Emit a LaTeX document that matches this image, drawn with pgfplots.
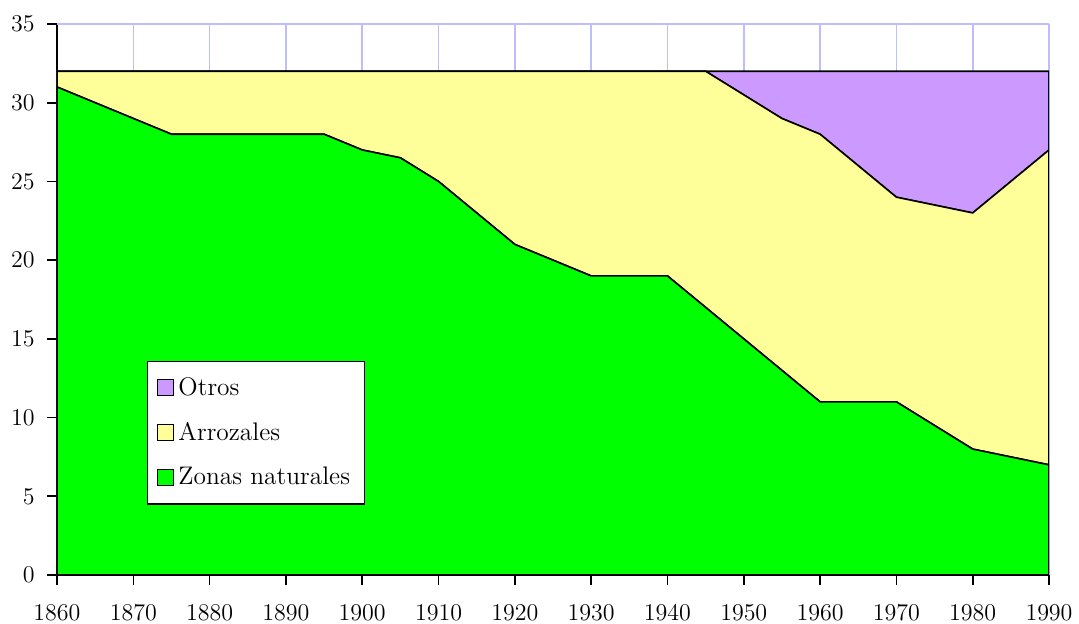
\documentclass[border=0pt]{standalone}
\usepackage{pgfplots}
\pgfplotsset{compat=1.18}
\usepackage{pgfplotstable}
\definecolor{zgreen}{HTML}{00FF00}
\definecolor{ayellow}{HTML}{FFFF99}
\definecolor{opurple}{HTML}{CC99FF}
\definecolor{gridblue}{RGB}{190,190,255}
\pgfplotstableread{
year Z A O
1860 31 1 0
1865 30 2 0
1870 29 3 0
1875 28 4 0
1880 28 4 0
1885 28 4 0
1890 28 4 0
1895 28 4 0
1900 27 5 0
1905 26.5 5.5 0
1910 25 7 0
1915 23 9 0
1920 21 11 0
1925 20 12 0
1930 19 13 0
1935 19 13 0
1940 19 13 0
1945 17 15 0
1950 15 15.5 1.5
1955 13 16 3
1960 11 17 4
1965 11 15 6
1970 11 13 8
1975 9.5 14 8.5
1980 8 15 9
1985 7.5 17.5 7
1990 7 20 5
}\datatable
\begin{document}
\begin{tikzpicture}
\path (-28.5pt,-24pt) rectangle (511pt,287.5pt);
\begin{axis}[
  at={(0,0)}, anchor=south west,
  scale only axis, width=496pt, height=275.5pt,
  xmin=1860, xmax=1990, ymin=0, ymax=35,
  xtick={1860,1870,...,1990}, ytick={0,5,...,35},
  axis lines=left, axis line style={-, black, line width=0.8pt},
  tick align=outside, major tick length=5pt,
  tick style={black, line width=0.8pt},
  xmajorgrids, major grid style={gridblue, line width=0.8pt},
  extra y ticks={35}, extra y tick labels={},
  extra y tick style={ymajorgrids, major grid style={gridblue, line width=0.8pt}},
  x tick label style={/pgf/number format/1000 sep={}, inner sep=0pt, yshift=-10pt},
  y tick label style={inner sep=0pt, xshift=-6pt},
  ticklabel style={font=\fontsize{12}{14}\selectfont},
  stack plots=y,
  legend style={at={(0.0904,0.389)}, anchor=north west, draw=black, line width=0.6pt,
    fill=white, font=\fontsize{12.7}{15}\selectfont, row sep=8pt, inner xsep=5pt, inner ysep=6pt},
  legend cell align=left, reverse legend,
  legend image code/.code={\draw[#1, draw=black, line width=0.6pt] (0pt,-4pt) rectangle (8pt,4pt);},
]
\addplot[fill=zgreen, draw=black, line width=0.8pt] table[x=year, y=Z] {\datatable} \closedcycle;
\addlegendentry{Zonas naturales}
\addplot[fill=ayellow, draw=black, line width=0.8pt] table[x=year, y=A] {\datatable} \closedcycle;
\addlegendentry{Arrozales}
\addplot[fill=opurple, draw=black, line width=0.8pt] table[x=year, y=O] {\datatable} \closedcycle;
\addlegendentry{Otros}
\end{axis}
\end{tikzpicture}
\end{document}
